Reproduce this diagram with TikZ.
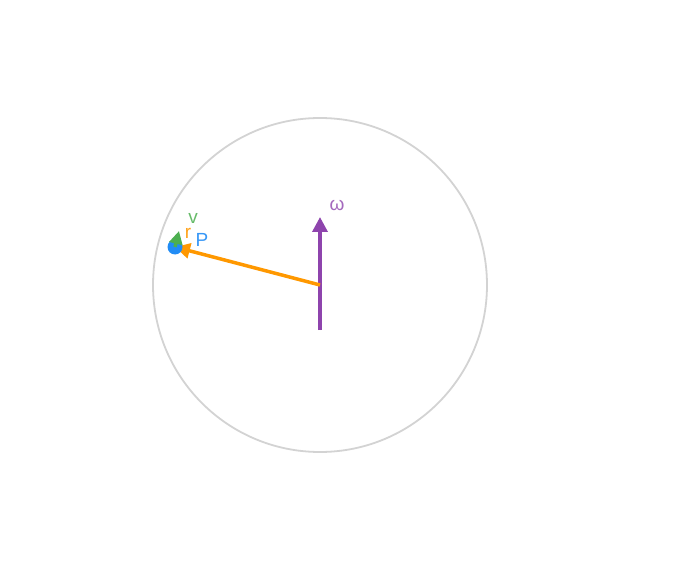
\documentclass[tikz,border=0pt]{standalone}
\usepackage{fontspec}
\setmainfont{Liberation Sans}
\usetikzlibrary{arrows.meta}
\definecolor{cgray}{RGB}{211,211,211}
\definecolor{corange}{RGB}{255,152,0}
\definecolor{cpurple}{RGB}{142,68,173}
\definecolor{cblue}{RGB}{33,140,245}
\definecolor{cgreen}{RGB}{76,175,80}
\tikzset{
  vec/.style={line width=3.5pt,-{Triangle[length=15pt,width=15pt]}},
  lbl/.style={inner sep=0pt,font=\fontsize{19pt}{19pt}\selectfont},
}
\begin{document}
\begin{tikzpicture}[x=1pt,y=-1pt]
\useasboundingbox (0,0) rectangle (678,583);
\coordinate (O) at (320,285);
\node[circle,draw=cgray,line width=1.8pt,minimum size=334pt,inner sep=0pt] (circ) at (O) {};
\coordinate (Pc) at (175,247);
\coordinate (Wb) at (320,330);
\coordinate (Wt) at (320,217);
\draw[vec,draw=cpurple,fill=cpurple] (Wb) -- (Wt);
\node[lbl,text=cpurple!80] (wl) at (337,205) {ω};
\draw[vec,draw=corange,fill=corange] (O) -- (Pc);
\fill[cblue] (Pc) circle (7.5pt);
\coordinate (Vt) at (179,231);
\draw[line width=3.5pt,draw=cgreen,-{Triangle[length=13pt,width=13pt]}] (Pc) -- (Vt);
\node[lbl,text=cgreen!85] (vl) at (193,218) {v};
\node[lbl,text=corange!90] (rl) at (188,233) {r};
\node[lbl,text=cblue!90] (pl) at (202,239.5) {P};
\end{tikzpicture}
\end{document}
